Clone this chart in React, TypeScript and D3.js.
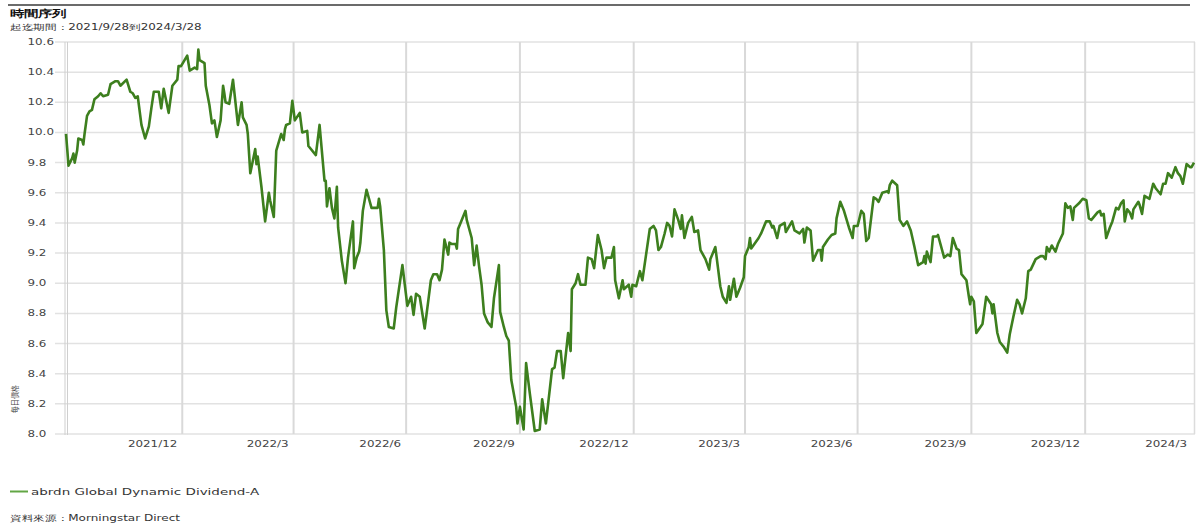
import React, { useEffect, useRef } from 'react'
import * as d3 from 'd3'

const startDate = '2021-09-28'
const endDate = '2024-03-28'
const chartTitle = '時間序列'
const periodText = '起迄期間：2021/9/28到2024/3/28'
const seriesName = 'abrdn Global Dynamic Dividend-A'
const sourceText = '資料來源：Morningstar Direct'
const yAxisTitle = '每日價格'

const yTicks = [8.0, 8.2, 8.4, 8.6, 8.8, 9.0, 9.2, 9.4, 9.6, 9.8, 10.0, 10.2, 10.4, 10.6]
const quarterEnds = [
    '2021-12-31', '2022-03-31', '2022-06-30', '2022-09-30', '2022-12-31',
    '2023-03-31', '2023-06-30', '2023-09-30', '2023-12-31', '2024-03-31'
]
const quarterLabels = [
    '2021/12', '2022/3', '2022/6', '2022/9', '2022/12',
    '2023/3', '2023/6', '2023/9', '2023/12', '2024/3'
]

// [days since startDate, NAV]
const navPoints: [number, number][] = [
    [0, 9.99], [1, 9.89], [2, 9.78], [5, 9.83], [6, 9.86], [7, 9.8], [9, 9.88], [10, 9.96], [13, 9.95], [14, 9.92],
    [15, 9.99], [17, 10.11], [19, 10.14], [21, 10.15], [23, 10.22], [26, 10.24], [28, 10.26], [30, 10.24], [34, 10.25], [36, 10.32],
    [38, 10.33], [40, 10.34], [42, 10.34], [44, 10.31], [49, 10.35], [52, 10.27], [54, 10.26], [56, 10.23], [58, 10.24], [61, 10.05],
    [64, 9.96], [67, 10.04], [69, 10.16], [71, 10.27], [75, 10.27], [77, 10.16], [79, 10.29], [83, 10.13], [86, 10.31], [90, 10.35],
    [91, 10.44], [93, 10.44], [98, 10.51], [100, 10.41], [102, 10.42], [104, 10.43], [106, 10.42], [107, 10.55], [108, 10.48], [112, 10.46],
    [113, 10.31], [116, 10.18], [118, 10.06], [120, 10.08], [122, 9.97], [125, 10.08], [127, 10.31], [128, 10.26], [129, 10.2], [132, 10.19],
    [135, 10.35], [139, 10.05], [142, 10.2], [143, 10.1], [146, 10.05], [147, 9.99], [149, 9.73], [153, 9.89], [154, 9.79], [155, 9.84],
    [158, 9.64], [161, 9.41], [164, 9.6], [165, 9.55], [168, 9.44], [170, 9.88], [174, 9.99], [176, 9.95], [177, 10.02], [178, 10.05],
    [181, 10.06], [183, 10.21], [185, 10.08], [189, 10.13], [191, 10.0], [195, 10.01], [196, 9.91], [202, 9.85], [205, 10.05], [209, 9.68],
    [210, 9.68], [211, 9.51], [213, 9.63], [215, 9.5], [217, 9.43], [219, 9.64], [220, 9.37], [223, 9.15], [226, 9.0], [228, 9.17],
    [232, 9.41], [233, 9.1], [235, 9.17], [237, 9.21], [238, 9.27], [240, 9.48], [243, 9.62], [247, 9.5], [252, 9.5], [253, 9.56],
    [254, 9.51], [257, 9.22], [259, 8.82], [261, 8.71], [265, 8.7], [267, 8.84], [272, 9.12], [276, 8.85], [279, 8.91], [281, 8.79],
    [283, 8.93], [286, 8.91], [290, 8.7], [293, 8.89], [295, 9.02], [297, 9.06], [300, 9.06], [302, 9.02], [304, 9.09], [306, 9.29],
    [309, 9.19], [310, 9.27], [312, 9.26], [315, 9.26], [316, 9.23], [317, 9.36], [319, 9.4], [323, 9.48], [324, 9.42], [328, 9.3],
    [330, 9.12], [332, 9.25], [334, 9.11], [336, 8.99], [338, 8.8], [341, 8.74], [344, 8.71], [346, 8.9], [350, 9.12], [351, 8.81],
    [354, 8.71], [356, 8.65], [358, 8.62], [360, 8.36], [364, 8.18], [365, 8.07], [367, 8.18], [370, 8.03], [372, 8.47], [375, 8.27],
    [379, 8.02], [383, 8.03], [385, 8.23], [388, 8.07], [393, 8.43], [395, 8.44], [397, 8.55], [400, 8.55], [402, 8.37], [406, 8.67],
    [408, 8.55], [409, 8.96], [412, 9.0], [414, 9.06], [416, 8.99], [420, 8.99], [422, 9.17], [425, 9.16], [427, 9.1], [430, 9.32],
    [433, 9.22], [435, 9.1], [437, 9.17], [441, 9.17], [443, 9.24], [444, 9.02], [447, 8.9], [450, 9.02], [451, 8.96], [455, 8.99],
    [457, 8.91], [458, 8.99], [461, 8.98], [464, 9.08], [466, 9.02], [469, 9.19], [472, 9.36], [475, 9.38], [477, 9.35], [479, 9.22],
    [481, 9.24], [484, 9.33], [486, 9.4], [488, 9.38], [490, 9.31], [492, 9.49], [495, 9.42], [497, 9.36], [498, 9.45], [500, 9.3],
    [503, 9.4], [506, 9.44], [508, 9.34], [511, 9.35], [513, 9.22], [517, 9.16], [520, 9.09], [521, 9.16], [525, 9.24], [527, 9.11],
    [529, 8.98], [531, 8.91], [534, 8.87], [536, 8.98], [537, 8.89], [540, 9.03], [542, 8.91], [545, 8.97], [548, 9.04], [549, 9.18],
    [552, 9.24], [553, 9.3], [554, 9.23], [560, 9.3], [562, 9.33], [566, 9.41], [569, 9.41], [571, 9.37], [572, 9.38], [575, 9.3],
    [577, 9.38], [581, 9.4], [582, 9.34], [587, 9.41], [589, 9.35], [593, 9.33], [596, 9.36], [597, 9.27], [599, 9.37], [602, 9.35],
    [604, 9.15], [608, 9.22], [610, 9.22], [611, 9.15], [612, 9.24], [616, 9.29], [619, 9.32], [622, 9.33], [623, 9.43], [626, 9.54],
    [629, 9.48], [633, 9.37], [636, 9.3], [637, 9.38], [640, 9.38], [643, 9.48], [645, 9.46], [647, 9.28], [649, 9.3], [653, 9.57],
    [655, 9.56], [657, 9.54], [660, 9.6], [664, 9.61], [665, 9.6], [666, 9.65], [668, 9.68], [672, 9.65], [674, 9.42], [677, 9.38],
    [680, 9.41], [683, 9.35], [686, 9.24], [689, 9.12], [693, 9.14], [694, 9.18], [695, 9.13], [696, 9.21], [699, 9.14], [701, 9.31],
    [704, 9.31], [705, 9.32], [710, 9.17], [713, 9.19], [715, 9.18], [717, 9.3], [720, 9.23], [722, 9.22], [724, 9.06], [728, 9.02],
    [730, 8.91], [731, 8.86], [732, 8.91], [734, 8.88], [736, 8.67], [741, 8.73], [744, 8.91], [748, 8.86], [749, 8.8], [750, 8.86],
    [753, 8.67], [755, 8.61], [758, 8.58], [761, 8.54], [763, 8.66], [766, 8.78], [769, 8.89], [771, 8.86], [773, 8.8], [776, 8.9],
    [778, 9.08], [780, 9.09], [784, 9.16], [788, 9.18], [790, 9.18], [792, 9.16], [793, 9.24], [795, 9.21], [797, 9.25], [800, 9.21],
    [802, 9.26], [806, 9.33], [808, 9.53], [810, 9.5], [812, 9.51], [814, 9.42], [815, 9.5], [819, 9.53], [822, 9.56], [825, 9.55],
    [827, 9.43], [829, 9.42], [834, 9.47], [836, 9.48], [837, 9.45], [839, 9.46], [841, 9.3], [844, 9.37], [846, 9.41], [849, 9.5],
    [851, 9.49], [853, 9.53], [855, 9.55], [856, 9.41], [858, 9.49], [860, 9.47], [862, 9.43], [863, 9.49], [867, 9.54], [868, 9.52],
    [870, 9.46], [872, 9.58], [874, 9.57], [876, 9.56], [879, 9.66], [881, 9.63], [885, 9.59], [887, 9.66], [889, 9.66], [891, 9.73],
    [894, 9.7], [897, 9.77], [899, 9.73], [901, 9.71], [903, 9.66], [906, 9.79], [909, 9.77], [910, 9.77], [912, 9.8]
]

const W = 1198
const H = 526
const plot = { left: 66, right: 1194, top: 42, bottom: 434 }
const stretch = 1.45 // the reference's text is drawn wide
const font = '"DejaVu Sans", Verdana, sans-serif'

const App: React.FC = () => {
    const ref = useRef<SVGSVGElement>(null)
    useEffect(() => {
        document.body.style.margin = '0'
        const svg = d3.select(ref.current)
        svg.selectAll('*').remove()

        const parse = d3.utcParse('%Y-%m-%d')
        const t0 = parse(startDate) as Date
        const t1 = parse(endDate) as Date
        const data = navPoints.map(([d, v]) => ({ date: d3.utcDay.offset(t0, d), v }))

        const x = d3.scaleUtc().domain([t0, t1]).range([plot.left, plot.right])
        const y = d3.scaleLinear().domain([8.0, 10.6]).range([plot.bottom, plot.top])

        const text = (px: number, py: number, s: string, size: number, anchor = 'start') =>
            svg
                .append('text')
                .attr('transform', `translate(${px},${py}) scale(${stretch},1)`)
                .attr('text-anchor', anchor)
                .attr('font-family', font)
                .attr('font-size', size)
                .attr('fill', '#333')
                .text(s)

        // header
        svg.append('line')
            .attr('x1', 8).attr('x2', 1190).attr('y1', 5).attr('y2', 5)
            .attr('stroke', '#3a3a3a').attr('stroke-width', 1.5)
        text(10, 17, chartTitle, 9.5).attr('font-weight', 'bold').attr('fill', '#111')
        text(10, 30, periodText, 8.2)

        // horizontal grid + y labels
        const grid = svg.append('g')
        grid.selectAll('line.h')
            .data(yTicks)
            .join('line')
            .attr('class', 'h')
            .attr('x1', 55).attr('x2', plot.right + 1)
            .attr('y1', (d) => y(d)).attr('y2', (d) => y(d))
            .attr('stroke', '#e2e2e2').attr('stroke-width', 1.5)
        yTicks.forEach((v) => text(27.5, y(v) + 3, v.toFixed(1), 8.2).attr('fill', '#444'))

        // vertical grid at quarter ends
        const qDates = quarterEnds.map((s) => parse(s) as Date)
        grid.selectAll('line.v')
            .data(qDates.filter((d) => d < t1))
            .join('line')
            .attr('class', 'v')
            .attr('x1', (d) => x(d)).attr('x2', (d) => x(d))
            .attr('y1', plot.top).attr('y2', plot.bottom)
            .attr('stroke', '#d9d9d9').attr('stroke-width', 2)
        qDates.forEach((d, i) =>
            text(Math.min(x(d) - 5, plot.right - 7), 447, quarterLabels[i], 8.2, 'end').attr('fill', '#444')
        )

        // plot borders
        ;[plot.left - 1, plot.left + 1.5].forEach((bx) =>
            svg.append('line')
                .attr('x1', bx).attr('x2', bx).attr('y1', plot.top).attr('y2', plot.bottom + 1)
                .attr('stroke', '#cfcfcf').attr('stroke-width', 1)
        )
        svg.append('line')
            .attr('x1', plot.right + 0.5).attr('x2', plot.right + 0.5).attr('y1', plot.top).attr('y2', plot.bottom)
            .attr('stroke', '#dcdcdc').attr('stroke-width', 1.5)

        // y axis title
        svg.append('text')
            .attr('transform', `translate(15,399) scale(1.3,1) rotate(-90)`)
            .attr('text-anchor', 'middle')
            .attr('dominant-baseline', 'middle')
            .attr('font-family', font)
            .attr('font-size', 7.2)
            .attr('fill', '#444')
            .text(yAxisTitle)

        // series line
        svg.append('path')
            .datum(data)
            .attr('fill', 'none')
            .attr('stroke', '#3d7f1e')
            .attr('stroke-width', 2.6)
            .attr('stroke-linejoin', 'round')
            .attr(
                'd',
                d3.line<{ date: Date; v: number }>()
                    .x((d) => x(d.date))
                    .y((d) => y(d.v))
            )

        // legend
        svg.append('line')
            .attr('x1', 10).attr('x2', 28).attr('y1', 491.5).attr('y2', 491.5)
            .attr('stroke', '#62a645').attr('stroke-width', 2)
        text(31, 495, seriesName, 9.3)

        // source
        text(10, 521, sourceText, 8.3)
    }, [])

    return <svg ref={ref} width={W} height={H} viewBox={`0 0 ${W} ${H}`} style={{ display: 'block', background: '#fff' }} />
}

export default App
